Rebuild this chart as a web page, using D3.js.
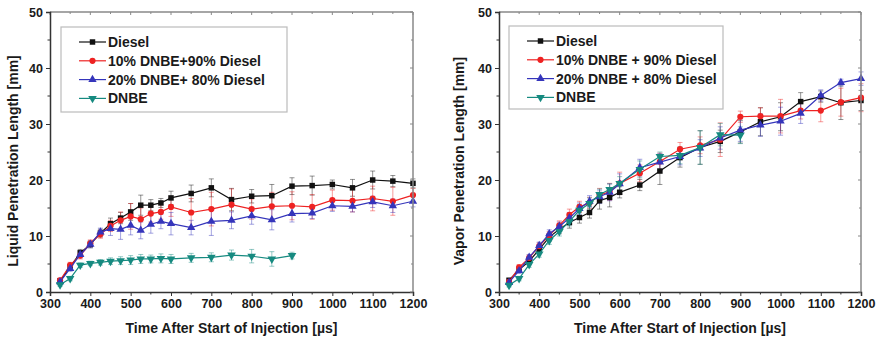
<!DOCTYPE html>
<html>
<head>
<meta charset="utf-8">
<script src="https://cdn.jsdelivr.net/npm/d3@7/dist/d3.min.js"></script>
<style>
  html, body { margin: 0; padding: 0; background: #fff; }
  svg text { font-family: "Liberation Sans", Arial, sans-serif; font-weight: bold; fill: #1a1a1a; }
</style>
</head>
<body>
<svg id="chart" width="878" height="339"></svg>
<script>
// Injection timing (µs after start of injection)
const timesFull = [325, 350, 375, 400, 425, 450, 475, 500, 525, 550, 575, 600,
                   650, 700, 750, 800, 850, 900, 950, 1000, 1050, 1100, 1150, 1200];
const timesDNBE = [325, 350, 375, 400, 425, 450, 475, 500, 525, 550, 575, 600,
                   650, 700, 750, 800, 850, 900];

const seriesNames = ["Diesel", "10% DNBE+90% Diesel", "20% DNBE+ 80% Diesel", "DNBE"];
const vaporNames  = ["Diesel", "10% DNBE + 90% Diesel", "20% DNBE + 80% Diesel", "DNBE"];

// Liquid penetration length [mm]
const liqDiesel = [2.0, 4.5, 7.0, 8.5, 10.5, 12.2, 13.2, 14.3, 15.5, 15.5, 15.9, 16.8,
                   17.6, 18.6, 16.5, 17.1, 17.2, 18.9, 19.0, 19.2, 18.6, 20.0, 19.8, 19.4];
const liqD10    = [2.1, 4.8, 6.5, 8.7, 10.3, 11.8, 12.8, 13.5, 13.0, 14.0, 14.3, 15.2,
                   14.2, 14.8, 15.6, 14.8, 15.3, 15.4, 15.2, 16.4, 16.3, 16.7, 16.2, 17.3];
const liqD20    = [1.8, 4.2, 6.7, 8.5, 10.7, 11.3, 11.2, 11.9, 11.0, 12.1, 12.6, 12.2,
                   11.5, 12.6, 12.8, 13.6, 12.9, 14.0, 14.1, 15.4, 15.3, 16.1, 15.4, 16.2];
const liqDNBE   = [1.3, 2.4, 4.8, 5.1, 5.3, 5.5, 5.6, 5.7, 5.9, 5.9, 6.0, 5.9,
                   6.1, 6.2, 6.6, 6.4, 5.9, 6.5];

// Liquid penetration standard deviation [mm]
const liqDieselErr = [0.3, 0.5, 0.6, 0.6, 0.7, 1.0, 1.0, 1.5, 1.8, 1.0, 0.8, 1.2,
                      1.5, 1.6, 2.0, 1.2, 2.0, 1.5, 1.7, 0.8, 1.5, 1.6, 1.0, 0.8];
const liqD10Err    = [0.4, 0.5, 0.6, 0.6, 0.7, 1.0, 1.5, 2.3, 2.0, 1.5, 1.3, 1.7,
                      2.5, 3.0, 2.8, 1.8, 2.5, 2.5, 2.2, 1.8, 2.0, 2.2, 2.5, 1.2];
const liqD20Err    = [0.3, 0.5, 0.6, 0.6, 0.7, 1.2, 1.8, 1.7, 1.5, 1.6, 1.3, 2.0,
                      1.3, 2.5, 1.5, 1.5, 1.8, 1.5, 1.0, 1.0, 1.0, 1.0, 1.2, 1.0];
const liqDNBEErr   = [0.3, 0.4, 0.4, 0.4, 0.5, 0.6, 0.7, 0.8, 0.8, 0.7, 0.8, 0.8,
                      0.8, 0.8, 0.9, 1.2, 1.3, 0.6];

// Vapor penetration length [mm]
const vapDiesel = [2.1, 4.0, 5.5, 7.6, 9.8, 11.2, 12.4, 13.3, 14.2, 16.3, 16.9, 17.8,
                   19.1, 21.6, 24.0, 25.8, 26.9, 28.6, 30.4, 31.3, 34.0, 34.9, 33.8, 34.2];
const vapD10    = [1.8, 4.4, 6.1, 8.2, 10.1, 11.9, 13.8, 15.2, 15.9, 17.3, 17.9, 19.4,
                   21.2, 23.3, 25.5, 26.2, 27.2, 31.3, 31.4, 31.4, 32.4, 32.4, 33.9, 34.7];
const vapD20    = [1.7, 3.8, 6.2, 8.3, 10.4, 11.7, 13.2, 14.9, 16.2, 17.0, 17.8, 19.3,
                   22.2, 23.2, 24.2, 25.7, 27.5, 28.9, 29.8, 30.5, 31.9, 35.1, 37.4, 38.1];
const vapDNBE   = [1.2, 2.4, 4.9, 6.8, 9.2, 10.8, 12.6, 14.6, 15.8, 17.4, 18.3, 19.4,
                   21.9, 24.2, 24.4, 25.8, 28.1, 28.0];

// Vapor penetration standard deviation [mm]
const vapDieselErr = [0.3, 0.5, 0.5, 0.6, 0.7, 0.8, 1.0, 1.0, 1.0, 1.5, 1.7, 1.0,
                      1.0, 2.4, 1.7, 3.0, 2.0, 2.0, 2.5, 2.5, 1.6, 1.0, 3.0, 1.8];
const vapD10Err    = [0.3, 0.5, 0.5, 0.6, 0.7, 0.8, 1.0, 1.0, 1.0, 1.2, 1.5, 2.0,
                      1.5, 1.5, 1.2, 1.5, 3.0, 1.0, 1.5, 3.0, 1.5, 2.0, 2.5, 2.5];
const vapD20Err    = [0.3, 0.5, 0.5, 0.6, 0.7, 0.8, 1.0, 1.0, 1.0, 1.2, 1.5, 1.8,
                      1.5, 1.5, 1.5, 1.5, 2.0, 2.0, 2.0, 2.5, 1.8, 1.0, 0.6, 1.2];
const vapDNBEErr   = [0.3, 0.4, 0.5, 0.6, 0.7, 0.8, 0.8, 1.0, 1.0, 1.0, 1.0, 1.2,
                      1.5, 0.8, 1.5, 3.0, 2.0, 1.5];

const xTicks = [300, 400, 500, 600, 700, 800, 900, 1000, 1100, 1200];
const yTicks = [0, 10, 20, 30, 40, 50];

const colors = ["#111111", "#ee2222", "#3535bb", "#168a80"];
const symbols = [d3.symbolSquare, d3.symbolCircle, d3.symbolTriangle, "down"];

const svg = d3.select("#chart");

function marker(g, type, color, x, y) {
  if (type === "down") {
    g.append("path")
      .attr("d", d3.symbol().type(d3.symbolTriangle).size(32)())
      .attr("transform", `translate(${x},${y}) rotate(180)`)
      .attr("fill", color);
  } else {
    g.append("path")
      .attr("d", d3.symbol().type(type).size(30)())
      .attr("transform", `translate(${x},${y})`)
      .attr("fill", color);
  }
}

function drawPanel(opts) {
  const { x0, x1, y0, y1, yTitle, titleX, series, names, legend } = opts;
  const x = d3.scaleLinear().domain([300, 1200]).range([x0, x1]);
  const y = d3.scaleLinear().domain([0, 50]).range([y0, y1]);
  const g = svg.append("g");

  // error bars first, then lines and markers
  series.forEach((s, i) => {
    const eg = g.append("g").attr("stroke", colors[i]).attr("stroke-opacity", 0.45).attr("stroke-width", 1);
    s.t.forEach((t, k) => {
      const cx = x(t), lo = y(s.v[k] - s.e[k]), hi = y(s.v[k] + s.e[k]);
      eg.append("line").attr("x1", cx).attr("x2", cx).attr("y1", lo).attr("y2", hi);
      eg.append("line").attr("x1", cx - 2.5).attr("x2", cx + 2.5).attr("y1", lo).attr("y2", lo);
      eg.append("line").attr("x1", cx - 2.5).attr("x2", cx + 2.5).attr("y1", hi).attr("y2", hi);
    });
  });
  series.forEach((s, i) => {
    const line = d3.line().x((d, k) => x(s.t[k])).y(d => y(d));
    g.append("path").datum(s.v).attr("d", line)
      .attr("fill", "none").attr("stroke", colors[i]).attr("stroke-width", 1.2);
    s.v.forEach((v, k) => marker(g, symbols[i], colors[i], x(s.t[k]), y(v)));
  });

  // frame: top and right edges
  g.append("line").attr("x1", x0).attr("x2", x1).attr("y1", y1).attr("y2", y1).attr("stroke", "#888").attr("stroke-width", 1.5);
  g.append("line").attr("x1", x1).attr("x2", x1).attr("y1", y0).attr("y2", y1).attr("stroke", "#888").attr("stroke-width", 1.5);

  // bottom axis with minor ticks
  const xMinor = d3.range(350, 1200, 100);
  const bottom = g.append("g").attr("transform", `translate(0,${y0})`);
  bottom.call(d3.axisBottom(x).tickValues(xTicks).tickSize(4).tickPadding(3).tickFormat(d3.format("d")));
  xMinor.forEach(v => bottom.append("line").attr("x1", x(v)).attr("x2", x(v)).attr("y1", 0).attr("y2", 2.5).attr("stroke", "#333"));
  // top mirror ticks (inward)
  xTicks.forEach(v => g.append("line").attr("x1", x(v)).attr("x2", x(v)).attr("y1", y1).attr("y2", y1 + 3).attr("stroke", "#888"));
  xMinor.forEach(v => g.append("line").attr("x1", x(v)).attr("x2", x(v)).attr("y1", y1).attr("y2", y1 + 2).attr("stroke", "#888"));

  // left axis with minor ticks
  const yMinor = d3.range(5, 50, 10);
  const left = g.append("g").attr("transform", `translate(${x0},0)`);
  left.call(d3.axisLeft(y).tickValues(yTicks).tickSize(4).tickPadding(3));
  yMinor.forEach(v => left.append("line").attr("x1", 0).attr("x2", -2.5).attr("y1", y(v)).attr("y2", y(v)).attr("stroke", "#333"));
  // right mirror ticks (inward)
  yTicks.forEach(v => g.append("line").attr("x1", x1).attr("x2", x1 - 3).attr("y1", y(v)).attr("y2", y(v)).attr("stroke", "#888"));
  yMinor.forEach(v => g.append("line").attr("x1", x1).attr("x2", x1 - 2).attr("y1", y(v)).attr("y2", y(v)).attr("stroke", "#888"));

  [bottom, left].forEach(a => {
    a.select(".domain").attr("stroke", "#333").attr("stroke-width", 1.5);
    a.selectAll(".tick line").attr("stroke", "#333");
    a.selectAll(".tick text").attr("font-size", 12.5).attr("fill", "#1a1a1a")
      .attr("font-family", "Liberation Sans, Arial, sans-serif").attr("font-weight", "bold");
  });

  // axis titles
  g.append("text").attr("x", (x0 + x1) / 2).attr("y", 333)
    .attr("text-anchor", "middle").attr("font-size", 14).text("Time After Start of Injection [µs]");
  g.append("text").attr("transform", `translate(${titleX},${(y0 + y1) / 2 + 9}) rotate(-90)`)
    .attr("text-anchor", "middle").attr("font-size", 14).text(yTitle);

  // legend
  const lg = g.append("g");
  lg.append("rect").attr("x", legend.x).attr("y", legend.y).attr("width", legend.w).attr("height", legend.h)
    .attr("fill", "#fff").attr("stroke", "#bbb").attr("stroke-width", 1.2);
  names.forEach((n, i) => {
    const ly = legend.y + 15 + i * 18.8;
    const lx = legend.x + 18;
    lg.append("line").attr("x1", lx).attr("x2", lx + 27).attr("y1", ly).attr("y2", ly)
      .attr("stroke", colors[i]).attr("stroke-width", 1.2);
    marker(lg, symbols[i], colors[i], lx + 13.5, ly);
    lg.append("text").attr("x", lx + 29).attr("y", ly).attr("dy", "0.35em")
      .attr("font-size", 14).text(n);
  });
}

drawPanel({
  x0: 50, x1: 413, y0: 292, y1: 12, titleX: 18,
  yTitle: "Liquid Penetration Length [mm]",
  names: seriesNames,
  series: [
    { t: timesFull, v: liqDiesel, e: liqDieselErr },
    { t: timesFull, v: liqD10, e: liqD10Err },
    { t: timesFull, v: liqD20, e: liqD20Err },
    { t: timesDNBE, v: liqDNBE, e: liqDNBEErr }
  ],
  legend: { x: 61, y: 27, w: 226, h: 85 }
});

drawPanel({
  x0: 499, x1: 861, y0: 292, y1: 12, titleX: 464,
  yTitle: "Vapor Penetration Length [mm]",
  names: vaporNames,
  series: [
    { t: timesFull, v: vapDiesel, e: vapDieselErr },
    { t: timesFull, v: vapD10, e: vapD10Err },
    { t: timesFull, v: vapD20, e: vapD20Err },
    { t: timesDNBE, v: vapDNBE, e: vapDNBEErr }
  ],
  legend: { x: 509, y: 26, w: 214, h: 83 }
});
</script>
</body>
</html>
